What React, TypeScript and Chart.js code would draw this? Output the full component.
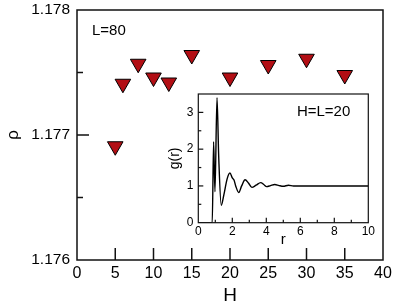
import React, { useEffect, useRef } from "react";
import { Chart, registerables } from "chart.js";

Chart.register(...registerables);

// Main plot data
const H = [5, 6, 8, 10, 12, 15, 20, 25, 30, 35];
const rho = [1.17691, 1.17741, 1.17757, 1.17746, 1.17742, 1.17764, 1.17746, 1.17756, 1.17761, 1.17748];
const mainXTicks = [0, 5, 10, 15, 20, 25, 30, 35, 40];
const mainYTicks = [1.176, 1.177, 1.178];
const mainYMinor = [1.1765, 1.1775];

// Inset data g(r)
const rVals = [0, 0.82, 0.9, 0.98, 1.1, 1.2, 1.35, 1.5, 1.7, 1.86, 2.0, 2.1, 2.2, 2.38, 2.55, 2.75, 2.95, 3.15, 3.4, 3.67, 3.85, 4.02, 4.25, 4.5, 4.75, 5.0, 5.3, 5.6, 6.0, 7.0, 8.0, 9.0, 10.0];
const gVals = [0, 0, 2.2, 0.84, 3.4, 1.8, 0.47, 0.75, 1.2, 1.35, 1.22, 1.16, 1.0, 0.82, 1.0, 1.17, 1.08, 0.96, 1.02, 1.09, 1.04, 0.98, 1.01, 1.04, 1.01, 0.99, 1.02, 1.0, 1.0, 1.0, 1.0, 1.0, 1.0];
const insetXMajor = [0, 2, 4, 6, 8, 10];
const insetXMinor = [1, 3, 5, 7, 9];
const insetYMajor = [0, 1, 2, 3];
const insetYMinor = [0.5, 1.5, 2.5, 3.5];

const FONT = "'Liberation Sans', Arial, Helvetica, sans-serif";

const frameTicks = {
  id: "frameTicks",
  beforeDraw(chart: any, _args: any, opts: any) {
    const { ctx, chartArea: a } = chart;
    ctx.save();
    ctx.fillStyle = "#fff";
    if (opts.fillAll) ctx.fillRect(0, 0, chart.width, chart.height);
    else ctx.fillRect(a.left, a.top, a.right - a.left, a.bottom - a.top);
    ctx.restore();
  },
  afterDraw(chart: any, _args: any, opts: any) {
    const { ctx, chartArea: a, scales } = chart;
    ctx.save();
    ctx.strokeStyle = "#111";
    ctx.lineWidth = opts.lineWidth;
    const seg = (x1: number, y1: number, x2: number, y2: number) => {
      ctx.beginPath();
      ctx.moveTo(x1, y1);
      ctx.lineTo(x2, y2);
      ctx.stroke();
    };
    (opts.xMajor || []).forEach((v: number) => {
      const px = scales.x.getPixelForValue(v);
      seg(px, a.bottom, px, a.bottom - opts.majorLen);
    });
    (opts.xMinor || []).forEach((v: number) => {
      const px = scales.x.getPixelForValue(v);
      seg(px, a.bottom, px, a.bottom - opts.minorLen);
    });
    (opts.yMajor || []).forEach((v: number) => {
      const py = scales.y.getPixelForValue(v);
      seg(a.left, py, a.left + opts.majorLen, py);
    });
    (opts.yMinor || []).forEach((v: number) => {
      const py = scales.y.getPixelForValue(v);
      seg(a.left, py, a.left + opts.minorLen, py);
    });
    ctx.strokeRect(a.left, a.top, a.right - a.left, a.bottom - a.top);
    if (opts.text) {
      ctx.fillStyle = "#000";
      ctx.font = opts.text.font;
      ctx.textAlign = "left";
      ctx.textBaseline = "middle";
      ctx.fillText(
        opts.text.label,
        scales.x.getPixelForValue(opts.text.x),
        scales.y.getPixelForValue(opts.text.y)
      );
    }
    ctx.restore();
  },
};

export default function App() {
  const mainRef = useRef<HTMLCanvasElement>(null);
  const insetRef = useRef<HTMLCanvasElement>(null);

  useEffect(() => {
    const main = new Chart(mainRef.current!, {
      type: "scatter",
      data: {
        datasets: [
          {
            data: H.map((h, i) => ({ x: h, y: rho[i] })),
            pointStyle: "triangle",
            rotation: 180,
            pointRadius: 9,
            pointHoverRadius: 9,
            backgroundColor: "#b20e14",
            borderColor: "#000",
            borderWidth: 1,
          },
        ],
      },
      options: {
        responsive: false,
        animation: false,
        events: [],
        layout: { padding: { left: 0, top: 8, right: 11, bottom: 0 } },
        plugins: {
          legend: { display: false },
          tooltip: { enabled: false },
          frameTicks: {
            fillAll: true,
            lineWidth: 1.5,
            majorLen: 12,
            minorLen: 6,
            xMajor: mainXTicks.slice(1, -1),
            yMajor: mainYTicks.slice(1, -1),
            yMinor: mainYMinor,
            text: { label: "L=80", x: 1.96, y: 1.177833, font: `15px ${FONT}` },
          },
        } as any,
        scales: {
          x: {
            type: "linear",
            min: 0,
            max: 40,
            afterBuildTicks: (s: any) => {
              s.ticks = mainXTicks.map((v) => ({ value: v }));
            },
            afterFit: (s: any) => {
              s.height = 47;
              s.paddingLeft = 0;
              s.paddingRight = 0;
            },
            grid: { display: false, drawTicks: false },
            border: { display: false },
            ticks: {
              padding: 6,
              color: "#000",
              font: { family: FONT, size: 16, lineHeight: 1 },
              maxRotation: 0,
              autoSkip: false,
            },
            title: {
              display: true,
              text: "H",
              color: "#000",
              font: { family: FONT, size: 19, lineHeight: 1.2 },
              padding: 0,
            },
          },
          y: {
            type: "linear",
            min: 1.176,
            max: 1.178,
            afterBuildTicks: (s: any) => {
              s.ticks = mainYTicks.map((v) => ({ value: v }));
            },
            afterFit: (s: any) => {
              s.width = 77;
              s.paddingTop = 0;
              s.paddingBottom = 0;
            },
            grid: { display: false, drawTicks: false },
            border: { display: false },
            ticks: {
              padding: 7,
              color: "#000",
              font: { family: FONT, size: 15.5, lineHeight: 1 },
              callback: (v: any) => Number(v).toFixed(3),
              autoSkip: false,
            },
            title: {
              display: true,
              text: "ρ",
              color: "#000",
              font: { family: FONT, size: 17, lineHeight: 1.2 },
              padding: 3,
            },
          },
        },
      },
      plugins: [frameTicks as any],
    });

    const inset = new Chart(insetRef.current!, {
      type: "line",
      data: {
        datasets: [
          {
            data: rVals.map((r, i) => ({ x: r, y: gVals[i] })),
            borderColor: "#000",
            borderWidth: 1.4,
            pointRadius: 0,
            fill: false,
            cubicInterpolationMode: "monotone",
          },
        ],
      },
      options: {
        responsive: false,
        animation: false,
        events: [],
        layout: { padding: { left: 0, top: 9, right: 11.7, bottom: 0 } },
        plugins: {
          legend: { display: false },
          tooltip: { enabled: false },
          frameTicks: {
            fillAll: false,
            lineWidth: 1.2,
            majorLen: 5,
            minorLen: 3,
            xMajor: insetXMajor.slice(1, -1),
            xMinor: insetXMinor,
            yMajor: insetYMajor.slice(1),
            yMinor: insetYMinor.slice(0, -1),
            text: { label: "H=L=20", x: 5.8, y: 3.02, font: `15px ${FONT}` },
          },
        } as any,
        scales: {
          x: {
            type: "linear",
            min: 0,
            max: 10,
            afterBuildTicks: (s: any) => {
              s.ticks = insetXMajor.map((v) => ({ value: v }));
            },
            afterFit: (s: any) => {
              s.height = 32.3;
              s.paddingLeft = 0;
              s.paddingRight = 0;
            },
            grid: { display: false, drawTicks: false },
            border: { display: false },
            ticks: {
              padding: 3,
              color: "#000",
              font: { family: FONT, size: 12, lineHeight: 1 },
              maxRotation: 0,
              autoSkip: false,
            },
            title: {
              display: true,
              text: "r",
              color: "#000",
              font: { family: FONT, size: 15, lineHeight: 1.2 },
              padding: { top: 0, bottom: 6 },
            },
          },
          y: {
            type: "linear",
            min: 0,
            max: 3.5,
            afterBuildTicks: (s: any) => {
              s.ticks = insetYMajor.map((v) => ({ value: v }));
            },
            afterFit: (s: any) => {
              s.width = 38.3;
              s.paddingTop = 0;
              s.paddingBottom = 0;
            },
            grid: { display: false, drawTicks: false },
            border: { display: false },
            ticks: {
              padding: 5,
              color: "#000",
              font: { family: FONT, size: 12, lineHeight: 1 },
              autoSkip: false,
            },
            title: {
              display: true,
              text: "g(r)",
              color: "#000",
              font: { family: FONT, size: 14, lineHeight: 1.2 },
              padding: { top: 7, bottom: 7 },
            },
          },
        },
      },
      plugins: [frameTicks as any],
    });

    return () => {
      main.destroy();
      inset.destroy();
    };
  }, []);

  return (
    <div style={{ position: "fixed", left: 0, top: 0, width: 394, height: 307 }}>
      <canvas
        ref={mainRef}
        width={394}
        height={307}
        style={{ position: "absolute", left: 0, top: 0, width: 394, height: 307 }}
      />
      <canvas
        ref={insetRef}
        width={220}
        height={170}
        style={{ position: "absolute", left: 160, top: 85, width: 220, height: 170 }}
      />
    </div>
  );
}
